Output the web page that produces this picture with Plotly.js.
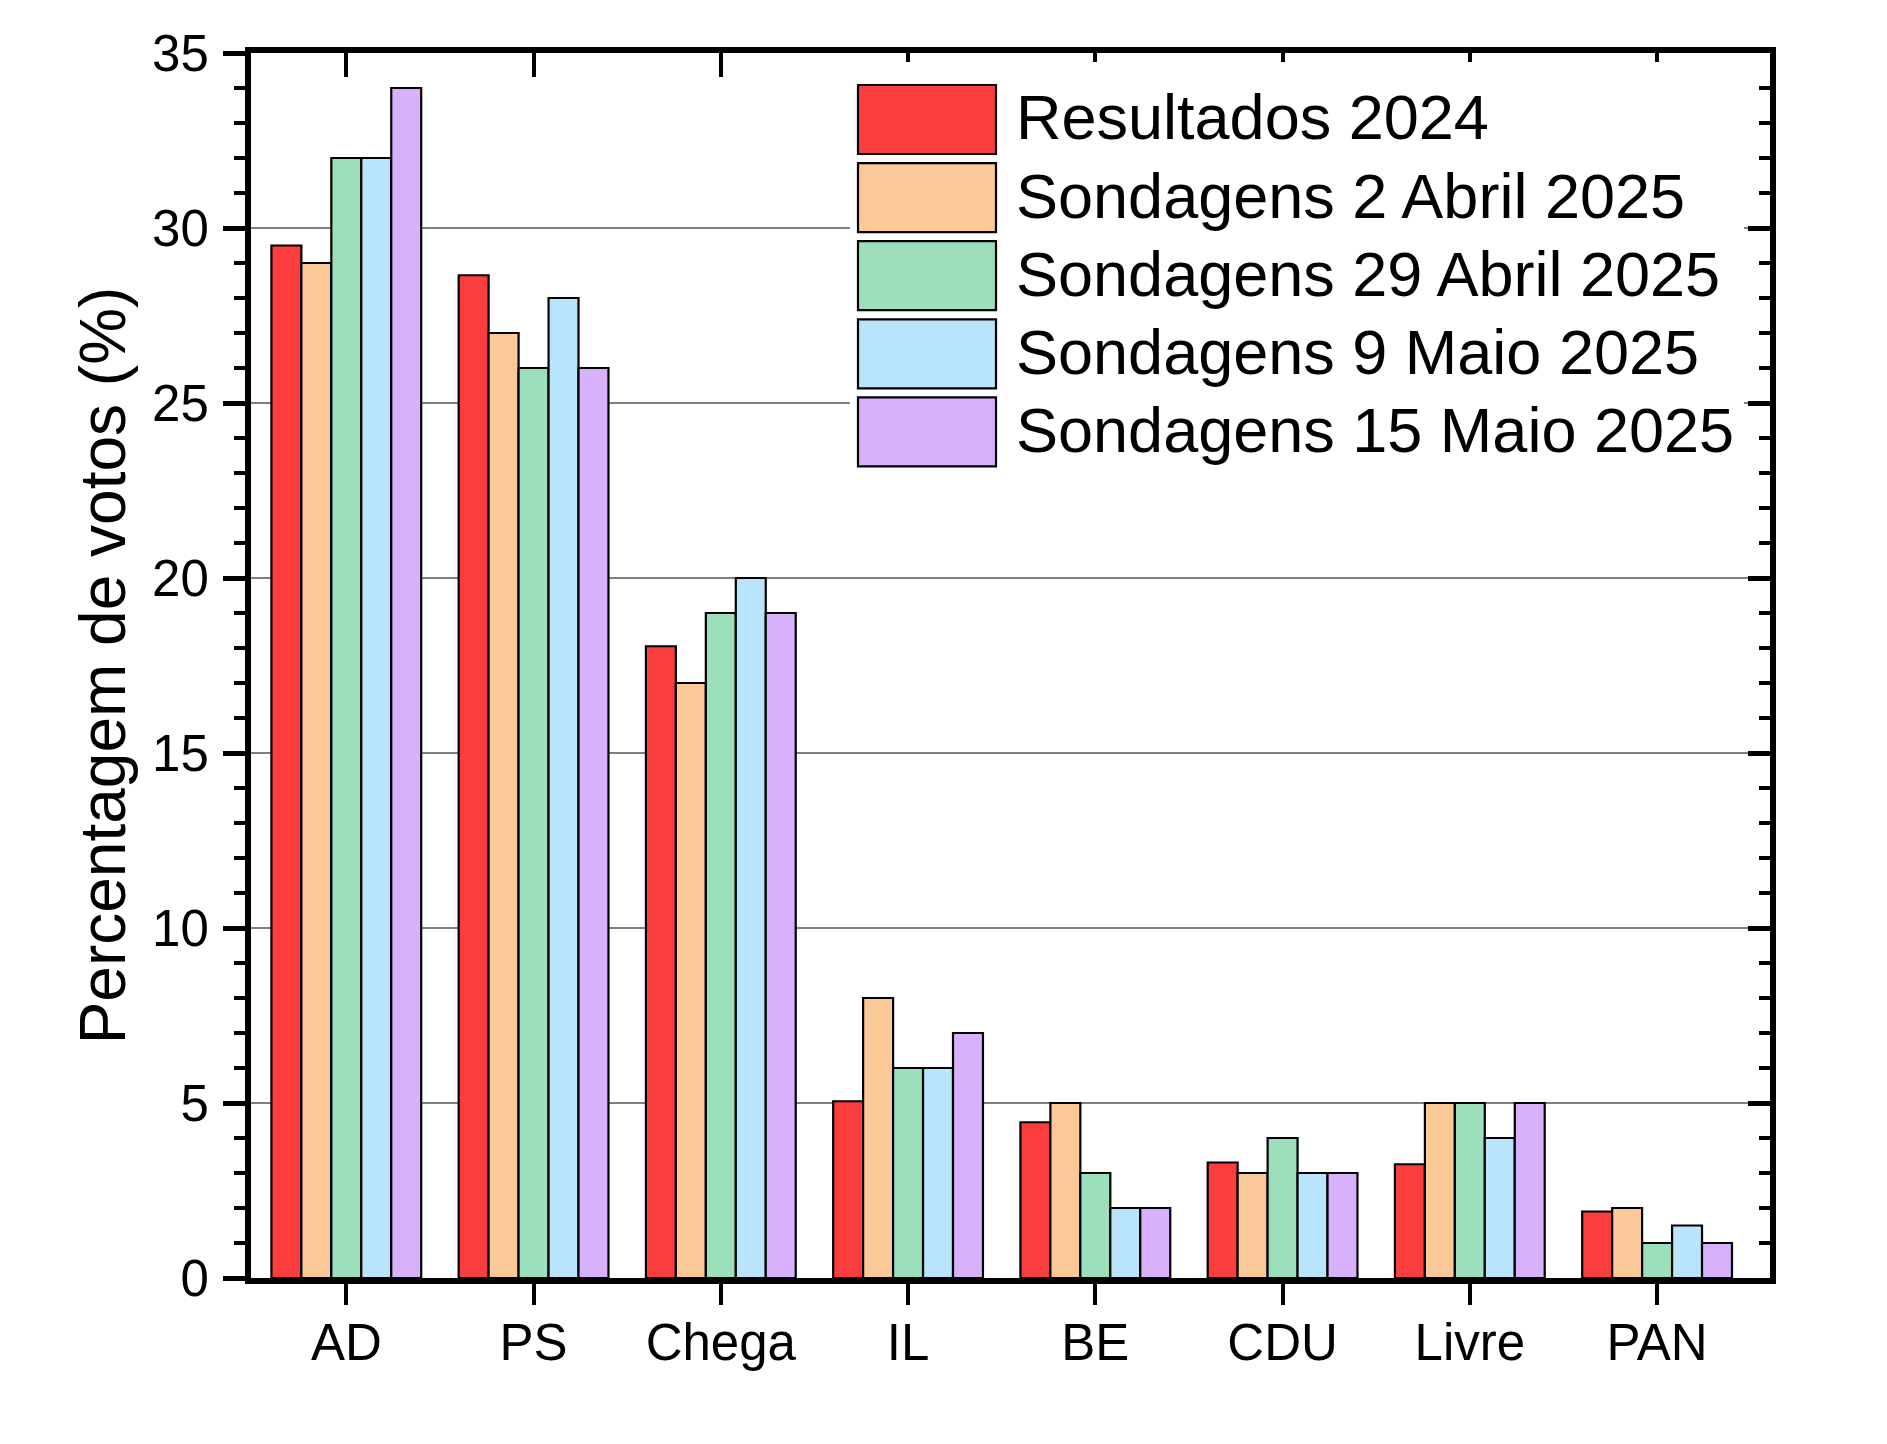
<!DOCTYPE html>
<html>
<head>
<meta charset="utf-8">
<script src="https://cdn.plot.ly/plotly-3.0.1.min.js"></script>
<style>
  html, body { margin: 0; padding: 0; background: #fff; }
  #chart { width: 1887px; height: 1444px; }
</style>
</head>
<body>
<div id="chart"></div>
<script>
// partidos e séries (valores em %)
const parties = ['AD', 'PS', 'Chega', 'IL', 'BE', 'CDU', 'Livre', 'PAN'];
const seriesNames = [
  'Resultados 2024',
  'Sondagens 2 Abril 2025',
  'Sondagens 29 Abril 2025',
  'Sondagens 9 Maio 2025',
  'Sondagens 15 Maio 2025'
];
const results2024 = [29.5, 28.65, 18.05, 5.05, 4.45, 3.3, 3.25, 1.9];
const poll02Apr = [29, 27, 17, 8, 5, 3, 5, 2];
const poll29Apr = [32, 26, 19, 6, 3, 4, 5, 1];
const poll09May = [32, 28, 20, 6, 2, 3, 4, 1.5];
const poll15May = [34, 26, 19, 7, 2, 3, 5, 1];
const barColors = ['#FC3D3D', '#FBC898', '#9CE0BB', '#B8E5FC', '#D8B1FD'];

const allSeries = [results2024, poll02Apr, poll29Apr, poll09May, poll15May];
const FONT = '"Liberation Sans", Arial, sans-serif';

// plot area in pixels (used only to place the hand-drawn legend)
const W = 1887, H = 1444;
const M = { l: 251, r: 117, t: 53, b: 166 };
const plotW = W - M.l - M.r, plotH = H - M.t - M.b;
const px = x => (x - M.l) / plotW;
const py = y => (H - M.b - y) / plotH;

const traces = allSeries.map((vals, i) => ({
  type: 'bar',
  name: seriesNames[i],
  x: parties,
  y: vals,
  marker: { color: barColors[i], line: { color: '#000', width: 2.2 } },
  hovertemplate: '%{x}: %{y}%<extra>' + seriesNames[i] + '</extra>'
}));

// empty helper trace so the mirrored top/right axes get drawn
traces.push({
  type: 'scatter', mode: 'markers', x: [0], y: [0],
  xaxis: 'x2', yaxis: 'y2', marker: { opacity: 0 },
  hoverinfo: 'skip', showlegend: false
});

// legend: white box, big swatches + labels
const shapes = [{
  type: 'rect', xref: 'paper', yref: 'paper', layer: 'above',
  x0: px(850), x1: px(1744), y0: py(490), y1: py(62),
  fillcolor: '#fff', line: { width: 0 }
}];
const annotations = [];
seriesNames.forEach((name, i) => {
  const cy = 119.5 + i * 78.1;
  shapes.push({
    type: 'rect', xref: 'paper', yref: 'paper', layer: 'above',
    x0: px(858), x1: px(996), y0: py(cy + 34.5), y1: py(cy - 34.5),
    fillcolor: barColors[i], line: { color: '#000', width: 2.2 }
  });
  annotations.push({
    xref: 'paper', yref: 'paper', x: px(1014), y: py(cy - 2),
    xanchor: 'left', yanchor: 'middle', showarrow: false,
    text: name, font: { family: FONT, size: 63, color: '#000' }
  });
});

const xRange = [-0.509, 7.603];
const layout = {
  width: W, height: H,
  margin: M,
  paper_bgcolor: '#fff',
  plot_bgcolor: '#fff',
  font: { family: FONT, color: '#000' },
  showlegend: false,
  barmode: 'group',
  bargap: 0.2,
  bargroupgap: 0,
  xaxis: {
    type: 'category',
    range: xRange,
    showline: true, linecolor: '#000', linewidth: 6,
    ticks: 'outside', ticklen: 21, tickwidth: 4, tickcolor: '#000',
    tickfont: { family: FONT, size: 51, color: '#000' },
    ticklabelstandoff: -6,
    showgrid: false, zeroline: false
  },
  xaxis2: {
    type: 'linear',
    overlaying: 'x', side: 'top', anchor: 'y',
    range: xRange,
    tickvals: parties.map((p, i) => i),
    showticklabels: false,
    showline: true, linecolor: '#000', linewidth: 6,
    ticks: 'inside', ticklen: 24, tickwidth: 4, tickcolor: '#000',
    showgrid: false, zeroline: false
  },
  yaxis: {
    range: [0, 35],
    dtick: 5,
    showline: true, linecolor: '#000', linewidth: 6,
    ticks: 'outside', ticklen: 22, tickwidth: 4.5, tickcolor: '#000',
    minor: { dtick: 1, ticks: 'outside', ticklen: 11, tickwidth: 4, tickcolor: '#000', showgrid: false },
    tickfont: { family: FONT, size: 51, color: '#000' },
    ticklabelstandoff: 4,
    showgrid: true, gridcolor: '#7f7f7f', gridwidth: 1.6,
    zeroline: false,
    title: { text: 'Percentagem de votos (%)', font: { family: FONT, size: 64, color: '#000' }, standoff: 8 }
  },
  yaxis2: {
    overlaying: 'y', side: 'right', anchor: 'x',
    range: [0, 35],
    dtick: 5,
    showticklabels: false,
    showline: true, linecolor: '#000', linewidth: 6,
    ticks: 'inside', ticklen: 22, tickwidth: 4.5, tickcolor: '#000',
    minor: { dtick: 1, ticks: 'inside', ticklen: 11, tickwidth: 4, tickcolor: '#000', showgrid: false },
    showgrid: false, zeroline: false
  },
  shapes: shapes,
  annotations: annotations
};

Plotly.newPlot('chart', traces, layout, { displayModeBar: false, responsive: false });
</script>
</body>
</html>
